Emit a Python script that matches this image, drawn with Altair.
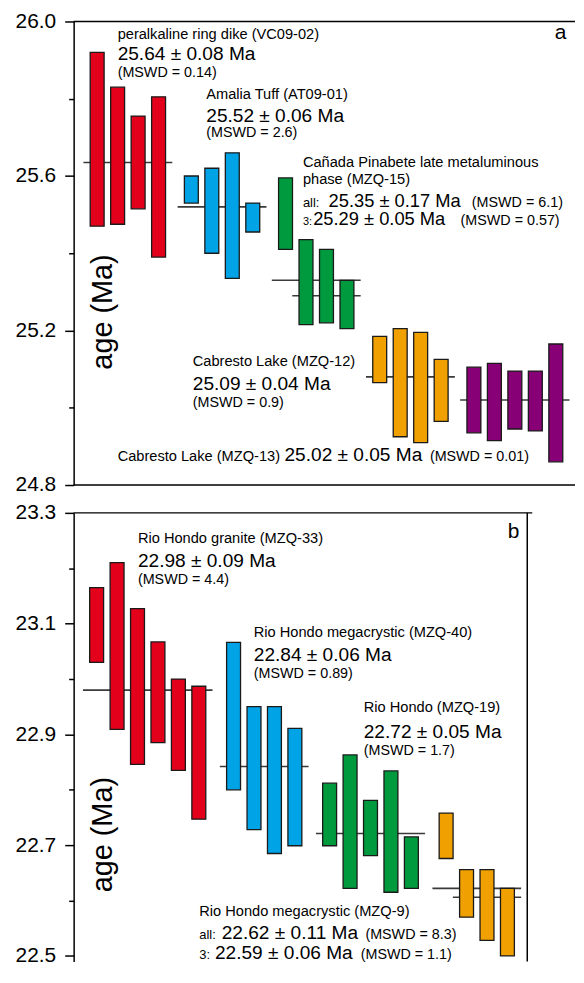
import altair as alt
import pandas as pd

FONT = "Liberation Sans"
COLORS = ["#e2001a", "#00a3e6", "#009a3e", "#f0a000", "#880075"]

# ---------------- panel a : ages (Ma) of single analyses ----------------
A_RED_TOP = [25.92, 25.83, 25.755, 25.805]
A_RED_BOT = [25.47, 25.475, 25.515, 25.39]
A_BLUE_TOP = [25.60, 25.62, 25.66, 25.53]
A_BLUE_BOT = [25.53, 25.40, 25.335, 25.455]
A_GREEN_TOP = [25.595, 25.435, 25.41, 25.33]
A_GREEN_BOT = [25.41, 25.215, 25.22, 25.205]
A_ORANGE_TOP = [25.185, 25.205, 25.195, 25.125]
A_ORANGE_BOT = [25.065, 24.925, 24.91, 24.965]
A_PURPLE_TOP = [25.105, 25.115, 25.095, 25.095, 25.165]
A_PURPLE_BOT = [24.935, 24.915, 24.945, 24.94, 24.86]
# weighted means (line age, group, first bar of the line)
A_MEAN_AGE = [25.635, 25.52, 25.33, 25.29, 25.08, 25.02]
A_MEAN_GROUP = [0, 1, 2, 2, 3, 4]
A_MEAN_FIRST = [0, 0, 0, 1, 0, 0]

A_TEXT = ["peralkaline ring dike (VC09-02)", "25.64 \u00b1 0.08 Ma", "(MSWD = 0.14)",
          "Amalia Tuff (AT09-01)", "25.52 \u00b1 0.06 Ma", "(MSWD = 2.6)",
          "Ca\u00f1ada Pinabete late metaluminous", "phase (MZQ-15)",
          "all:", "25.35 \u00b1 0.17 Ma", "(MSWD = 6.1)",
          "3:", "25.29 \u00b1 0.05 Ma", "(MSWD = 0.57)",
          "Cabresto Lake (MZQ-12)", "25.09 \u00b1 0.04 Ma", "(MSWD = 0.9)",
          "Cabresto Lake (MZQ-13)", "25.02 \u00b1 0.05 Ma", "(MSWD = 0.01)", "a"]
A_TEXT_X = [1.0, 1.0, 1.0, 5.33, 5.33, 5.33, 10.05, 10.05, 10.05, 11.3, 18.3,
            10.05, 10.55, 17.75, 4.67, 4.67, 4.67, 1.0, 9.15, 16.25, 22.35]
A_TEXT_Y = [25.955, 25.899, 25.855, 25.80, 25.741, 25.70, 25.623, 25.58,
            25.521, 25.521, 25.521, 25.472, 25.472, 25.472,
            25.108, 25.047, 25.001, 24.862, 24.862, 24.862, 25.955]
A_TEXT_SIZE = [14.7, 19.2, 14.4, 14.7, 19.2, 14.4, 14.7, 14.7, 13, 18.4, 14.4, 11, 18.4, 14.4,
               14.7, 19.2, 14.4, 14.7, 19.2, 14.4, 21]

# ---------------- panel b ----------------
B_RED_TOP = [23.165, 23.21, 23.127, 23.067, 23.0, 22.987]
B_RED_BOT = [23.03, 22.909, 22.846, 22.885, 22.835, 22.747]
B_BLUE_TOP = [23.066, 22.95, 22.95, 22.911]
B_BLUE_BOT = [22.80, 22.728, 22.685, 22.699]
B_GREEN_TOP = [22.812, 22.863, 22.781, 22.834, 22.715]
B_GREEN_BOT = [22.699, 22.622, 22.681, 22.615, 22.622]
B_ORANGE_TOP = [22.758, 22.656, 22.656, 22.622]
B_ORANGE_BOT = [22.676, 22.57, 22.528, 22.50]
B_MEAN_AGE = [22.98, 22.842, 22.721, 22.622, 22.606]
B_MEAN_GROUP = [0, 1, 2, 3, 3]
B_MEAN_FIRST = [0, 0, 0, 0, 1]

B_TEXT = ["Rio Hondo granite (MZQ-33)", "22.98 \u00b1 0.09 Ma", "(MSWD = 4.4)",
          "Rio Hondo megacrystic (MZQ-40)", "22.84 \u00b1 0.06 Ma", "(MSWD = 0.89)",
          "Rio Hondo (MZQ-19)", "22.72 \u00b1 0.05 Ma", "(MSWD = 1.7)",
          "Rio Hondo megacrystic (MZQ-9)",
          "all:", "22.62 \u00b1 0.11 Ma", "(MSWD = 8.3)",
          "3:", "22.59 \u00b1 0.06 Ma", "(MSWD = 1.1)", "b"]
B_TEXT_X = [2.02, 2.02, 2.02, 7.69, 7.69, 7.69, 13.07, 13.07, 13.07, 5.02,
            5.02, 6.12, 13.15, 5.02, 5.79, 12.92, 20.12]
B_TEXT_Y = [23.245, 23.202, 23.172, 23.075, 23.033, 23.001, 22.941, 22.893, 22.862,
            22.572, 22.531, 22.531, 22.531, 22.495, 22.495, 22.495, 23.254]
B_TEXT_SIZE = [14.7, 19.2, 14.4, 14.7, 19.2, 14.4, 14.7, 19.2, 14.4, 14.7,
               13, 19.2, 14.4, 13, 19.2, 14.4, 21]


def build_panel(tops, bots, mean_age, mean_group, mean_first, texts, tx, ty, tsize,
                title_pos, ydom, yticks, major_test, xdom, gap, width, height, right_border):
    rows = []
    slot = 0.0
    group_slots = []
    for g, (t, b) in enumerate(zip(tops, bots)):
        slots = []
        for i in range(len(t)):
            s = slot + i + gap * g
            slots.append(s)
            rows.append({"slot": s, "top": t[i], "bot": b[i], "col": COLORS[g]})
        group_slots.append(slots)
        slot += len(t)
    bars_df = pd.DataFrame(rows)

    mrows = []
    for age, g, f in zip(mean_age, mean_group, mean_first):
        mrows.append({"x1": group_slots[g][f] - 0.67, "x2": group_slots[g][-1] + 0.67, "age": age})
    means_df = pd.DataFrame(mrows)

    text_df = pd.DataFrame({"slot": tx, "age": ty, "txt": texts, "fs": tsize})

    xscale = alt.Scale(domain=xdom, nice=False, zero=False)
    yscale = alt.Scale(domain=ydom, nice=False, zero=False)
    yaxis = alt.Axis(
        values=yticks, title=None, grid=False,
        labelExpr=f"{major_test} ? format(datum.value, '.1f') : ''",
        tickSize={"condition": {"test": major_test, "value": 9}, "value": 5},
        labelPadding=9, labelFont=FONT, labelFontSize=21, labelColor="black",
        domainColor="black", domainWidth=1.5, tickColor="black", tickWidth=1.5,
    )

    def X(f):
        return alt.X(f, scale=xscale, axis=None)

    def Y(f):
        return alt.Y(f, scale=yscale, axis=yaxis)

    means = alt.Chart(means_df).mark_rule(color="#3a3a3a", strokeWidth=1.6).encode(
        x=X("x1:Q"), x2="x2:Q", y=Y("age:Q"))
    bars = alt.Chart(bars_df).mark_bar(size=14, stroke="#1a1a1a", strokeWidth=1.3).encode(
        x=X("slot:Q"), y=Y("top:Q"), y2="bot:Q", color=alt.Color("col:N", scale=None))
    border_y = [ydom[1]] if right_border else [ydom[0], ydom[1]]
    hborder = alt.Chart(pd.DataFrame({"b": border_y})).mark_rule(
        color="black", strokeWidth=1.5).encode(y=Y("b:Q"))
    labels = alt.Chart(text_df).mark_text(
        align="left", baseline="alphabetic", font=FONT, color="black").encode(
        x=X("slot:Q"), y=Y("age:Q"), text="txt:N", size=alt.Size("fs:Q", scale=None))
    ytitle = alt.Chart(pd.DataFrame({"slot": [title_pos[0]], "age": [title_pos[1]],
                                     "t": ["age (Ma)"]})).mark_text(
        angle=270, align="center", baseline="alphabetic", font=FONT, fontSize=29,
        color="black").encode(x=X("slot:Q"), y=Y("age:Q"), text="t:N")
    layers = [means, bars, hborder, labels, ytitle]
    if right_border:
        vborder = alt.Chart(pd.DataFrame({"v": [xdom[1]]})).mark_rule(
            color="black", strokeWidth=1.5).encode(x=X("v:Q"))
        layers.append(vborder)
    return alt.layer(*layers).properties(width=width, height=height)


panel_a = build_panel(
    [A_RED_TOP, A_BLUE_TOP, A_GREEN_TOP, A_ORANGE_TOP, A_PURPLE_TOP],
    [A_RED_BOT, A_BLUE_BOT, A_GREEN_BOT, A_ORANGE_BOT, A_PURPLE_BOT],
    A_MEAN_AGE, A_MEAN_GROUP, A_MEAN_FIRST, A_TEXT, A_TEXT_X, A_TEXT_Y, A_TEXT_SIZE,
    (0.71, 25.248), [24.8, 26.0], [24.8, 25.0, 25.2, 25.4, 25.6, 25.8, 26.0],
    "round(datum.value*10) % 4 == 0", [-0.905, 23.095], 0.6, 504, 466, False)

panel_b = build_panel(
    [B_RED_TOP, B_BLUE_TOP, B_GREEN_TOP, B_ORANGE_TOP],
    [B_RED_BOT, B_BLUE_BOT, B_GREEN_BOT, B_ORANGE_BOT],
    B_MEAN_AGE, B_MEAN_GROUP, B_MEAN_FIRST, B_TEXT, B_TEXT_X, B_TEXT_Y, B_TEXT_SIZE,
    (0.74, 22.719), [22.49, 23.3],
    [22.5, 22.6, 22.7, 22.8, 22.9, 23.0, 23.1, 23.2, 23.3],
    "round(datum.value*10) % 2 == 1", [-0.881, 21.07], 0.7, 461, 451, True)

chart = alt.vconcat(panel_a, panel_b, spacing=28, bounds="flush").properties(
    padding={"left": 7, "top": 0, "right": 0, "bottom": 0}
).configure_view(stroke=None)

chart.save("out.html", embed_options={"renderer": "svg", "actions": False})
